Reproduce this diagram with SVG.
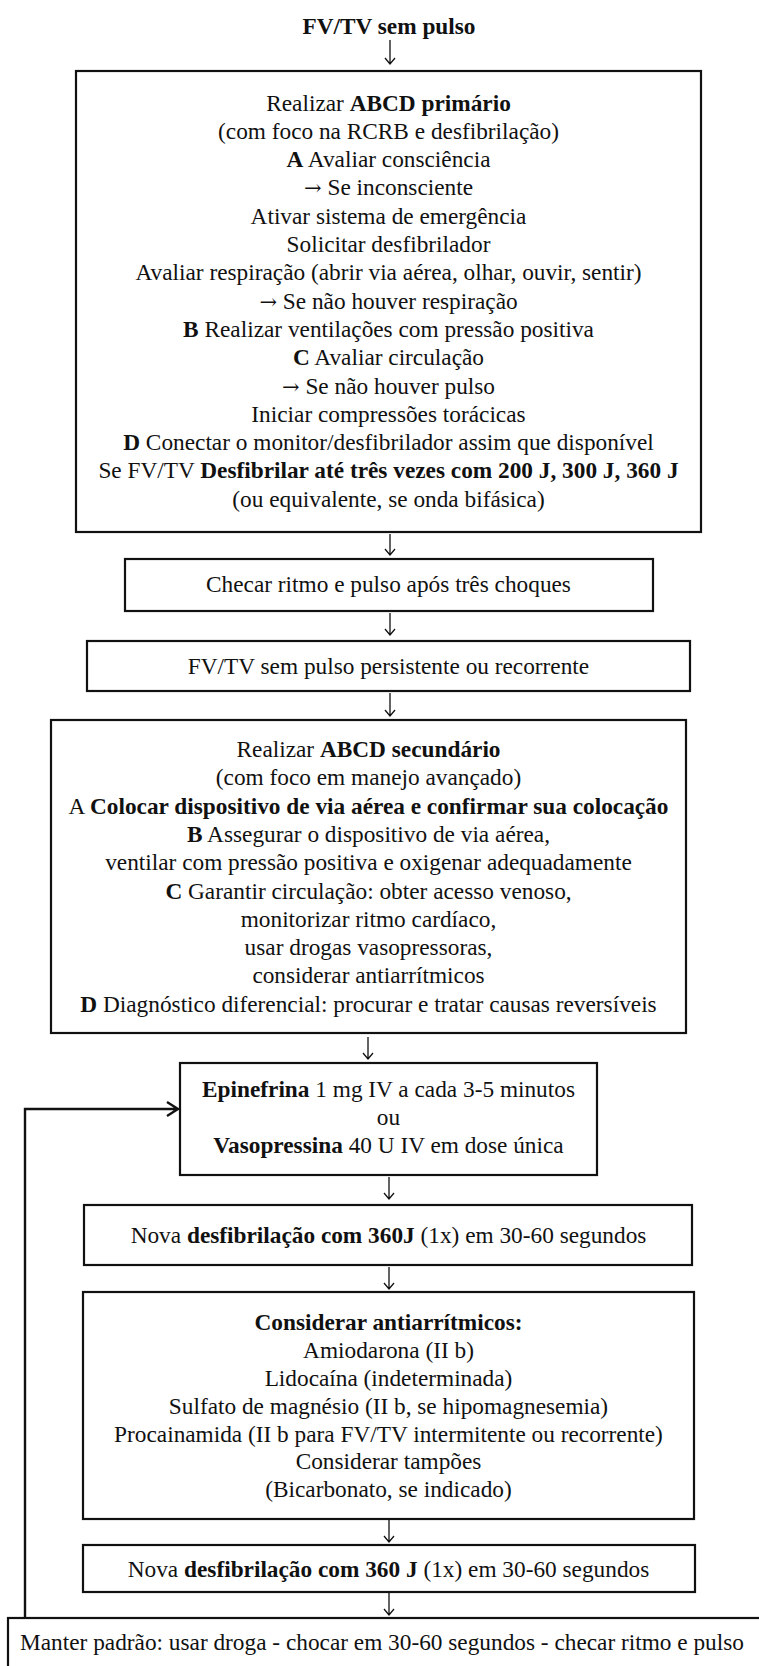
<svg xmlns="http://www.w3.org/2000/svg" width="759" height="1666" viewBox="0 0 759 1666">
<defs>
<style>
text{font-family:"Liberation Serif","Times New Roman",serif;font-size:23.3px;fill:#111;text-anchor:middle}
.b{font-weight:bold}
.ar{font-family:"DejaVu Serif",serif;font-size:21px}
.box{fill:#fff;stroke:#111;stroke-width:2.2}
.arr{fill:none;stroke:#111;stroke-width:1.3}
.loop{fill:none;stroke:#111;stroke-width:2.4}
</style>
</defs>
<rect width="759" height="1666" fill="#fff"/>
<g id="title"><text x="389" y="34" class="b">FV/TV sem pulso</text></g>
<g id="connectors">
<path class="arr" d="M390,40V64M385,58L390,64L395,58"/>
<path class="arr" d="M390,534V555M385,549L390,555L395,549"/>
<path class="arr" d="M390,613V635M385,629L390,635L395,629"/>
<path class="arr" d="M390,693V716M385,710L390,716L395,710"/>
<path class="arr" d="M368,1037V1059M363,1053L368,1059L373,1053"/>
<path class="arr" d="M389,1177V1199M384,1193L389,1199L394,1193"/>
<path class="arr" d="M389,1267V1289M384,1283L389,1289L394,1283"/>
<path class="arr" d="M389,1520V1542M384,1536L389,1542L394,1536"/>
<path class="arr" d="M389,1593V1615M384,1609L389,1615L394,1609"/>
<path class="loop" d="M25,1618V1109H178M167,1102L178,1109L167,1116"/>
</g>
<g id="node1">
<rect class="box" x="76" y="71" width="625" height="461"/>
<text x="388.5" y="110.5">Realizar <tspan class="b">ABCD primário</tspan></text>
<text x="388.5" y="138.8">(com foco na RCRB e desfibrilação)</text>
<text x="388.5" y="167.1"><tspan class="b">A</tspan> Avaliar consciência</text>
<text x="388.5" y="195.4"><tspan class="ar">→</tspan> Se inconsciente</text>
<text x="388.5" y="223.7">Ativar sistema de emergência</text>
<text x="388.5" y="252">Solicitar desfibrilador</text>
<text x="388.5" y="280.3">Avaliar respiração (abrir via aérea, olhar, ouvir, sentir)</text>
<text x="388.5" y="308.6"><tspan class="ar">→</tspan> Se não houver respiração</text>
<text x="388.5" y="336.9"><tspan class="b">B</tspan> Realizar ventilações com pressão positiva</text>
<text x="388.5" y="365.2"><tspan class="b">C</tspan> Avaliar circulação</text>
<text x="388.5" y="393.5"><tspan class="ar">→</tspan> Se não houver pulso</text>
<text x="388.5" y="421.8">Iniciar compressões torácicas</text>
<text x="388.5" y="450.1"><tspan class="b">D</tspan> Conectar o monitor/desfibrilador assim que disponível</text>
<text x="388.5" y="478.4">Se FV/TV <tspan class="b">Desfibrilar até três vezes com 200 J, 300 J, 360 J</tspan></text>
<text x="388.5" y="506.7">(ou equivalente, se onda bifásica)</text>
</g>
<g id="node2">
<rect class="box" x="125" y="559" width="528" height="52"/>
<text x="388.5" y="592">Checar ritmo e pulso após três choques</text>
</g>
<g id="node3">
<rect class="box" x="87" y="641" width="603" height="50"/>
<text x="388.5" y="673.5">FV/TV sem pulso persistente ou recorrente</text>
</g>
<g id="node4">
<rect class="box" x="51" y="720" width="635" height="313"/>
<text x="368.5" y="757">Realizar <tspan class="b">ABCD secundário</tspan></text>
<text x="368.5" y="785.3">(com foco em manejo avançado)</text>
<text x="368.5" y="813.6">A <tspan class="b">Colocar dispositivo de via aérea e confirmar sua colocação</tspan></text>
<text x="368.5" y="841.9"><tspan class="b">B</tspan> Assegurar o dispositivo de via aérea,</text>
<text x="368.5" y="870.2">ventilar com pressão positiva e oxigenar adequadamente</text>
<text x="368.5" y="898.5"><tspan class="b">C</tspan> Garantir circulação: obter acesso venoso,</text>
<text x="368.5" y="926.8">monitorizar ritmo cardíaco,</text>
<text x="368.5" y="955.1">usar drogas vasopressoras,</text>
<text x="368.5" y="983.4">considerar antiarrítmicos</text>
<text x="368.5" y="1011.7"><tspan class="b">D</tspan> Diagnóstico diferencial: procurar e tratar causas reversíveis</text>
</g>
<g id="node5">
<rect class="box" x="180" y="1063" width="417" height="112"/>
<text x="388.5" y="1097"><tspan class="b">Epinefrina</tspan> 1 mg IV a cada 3-5 minutos</text>
<text x="388.5" y="1125">ou</text>
<text x="388.5" y="1153"><tspan class="b">Vasopressina</tspan> 40 U IV em dose única</text>
</g>
<g id="node6">
<rect class="box" x="84" y="1205" width="608" height="60"/>
<text x="388.5" y="1243">Nova <tspan class="b">desfibrilação com 360J</tspan> (1x) em 30-60 segundos</text>
</g>
<g id="node7">
<rect class="box" x="83" y="1292" width="611" height="227"/>
<text x="388.5" y="1330" class="b">Considerar antiarrítmicos:</text>
<text x="388.5" y="1358">Amiodarona (II b)</text>
<text x="388.5" y="1386">Lidocaína (indeterminada)</text>
<text x="388.5" y="1413.5">Sulfato de magnésio (II b, se hipomagnesemia)</text>
<text x="388.5" y="1441.5">Procainamida (II b para FV/TV intermitente ou recorrente)</text>
<text x="388.5" y="1469">Considerar tampões</text>
<text x="388.5" y="1497">(Bicarbonato, se indicado)</text>
</g>
<g id="node8">
<rect class="box" x="83" y="1545" width="612" height="47"/>
<text x="388.5" y="1577">Nova <tspan class="b">desfibrilação com 360 J</tspan> (1x) em 30-60 segundos</text>
</g>
<g id="node9">
<rect class="box" x="8" y="1618" width="780" height="80"/>
<text x="382" y="1650">Manter padrão: usar droga - chocar em 30-60 segundos - checar ritmo e pulso</text>
</g>
</svg>
